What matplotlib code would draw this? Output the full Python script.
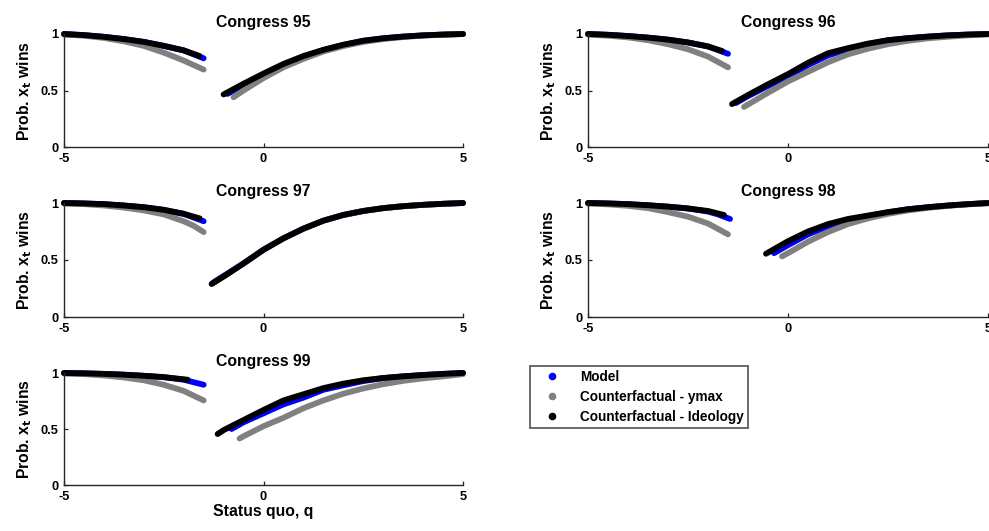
import numpy as np
import matplotlib
matplotlib.use("Agg")
import matplotlib.pyplot as plt
from matplotlib.lines import Line2D

plt.rcParams["font.family"] = ["Liberation Sans", "DejaVu Sans"]
plt.rcParams["font.weight"] = "bold"

congresses = [95, 96, 97, 98, 99]
series_names = ["Model", "Counterfactual - ymax", "Counterfactual - Ideology"]
series_colors = ["#0000ff", "#808080", "#000000"]
nan = float("nan")

# ---- Congress 95 ----
c95_model_q = [-5, -4.5, -4, -3.5, -3, -2.5, -2, -1.5, nan, -0.9, -0.5, 0, 0.5, 1, 1.5, 2, 2.5, 3, 3.5, 4, 4.5, 5]
c95_model_p = [1.0, 0.99, 0.975, 0.955, 0.93, 0.895, 0.855, 0.785, nan, 0.47, 0.55, 0.64, 0.725, 0.8, 0.857, 0.903, 0.94, 0.962, 0.977, 0.988, 0.995, 1.0]
c95_ymax_q = [-5, -4.5, -4, -3.5, -3, -2.5, -2, -1.5, nan, -0.75, -0.5, 0, 0.5, 1, 1.5, 2, 2.5, 3, 3.5, 4, 4.5, 5]
c95_ymax_p = [0.995, 0.985, 0.965, 0.935, 0.895, 0.835, 0.765, 0.685, nan, 0.44, 0.5, 0.61, 0.705, 0.78, 0.845, 0.893, 0.93, 0.955, 0.973, 0.986, 0.994, 1.0]
c95_ideo_q = [-5, -4.5, -4, -3.5, -3, -2.5, -2, -1.6, nan, -1.0, -0.5, 0, 0.5, 1, 1.5, 2, 2.5, 3, 3.5, 4, 4.5, 5]
c95_ideo_p = [1.0, 0.99, 0.975, 0.955, 0.93, 0.895, 0.855, 0.805, nan, 0.465, 0.56, 0.65, 0.735, 0.805, 0.86, 0.905, 0.94, 0.962, 0.977, 0.988, 0.995, 1.0]

# ---- Congress 96 ----
c96_model_q = [-5, -4.5, -4, -3.5, -3, -2.5, -2, -1.5, nan, -1.3, -1, -0.5, 0, 0.5, 1, 1.5, 2, 2.5, 3, 3.5, 4, 4.5, 5]
c96_model_p = [1.0, 0.993, 0.982, 0.968, 0.95, 0.925, 0.89, 0.825, nan, 0.39, 0.45, 0.54, 0.625, 0.725, 0.81, 0.865, 0.91, 0.945, 0.963, 0.977, 0.988, 0.995, 1.0]
c96_ymax_q = [-5, -4.5, -4, -3.5, -3, -2.5, -2, -1.5, nan, -1.1, -0.5, 0, 0.5, 1, 1.5, 2, 2.5, 3, 3.5, 4, 4.5, 5]
c96_ymax_p = [0.995, 0.985, 0.97, 0.945, 0.91, 0.865, 0.8, 0.705, nan, 0.355, 0.48, 0.58, 0.665, 0.75, 0.82, 0.87, 0.91, 0.94, 0.962, 0.976, 0.988, 0.996]
c96_ideo_q = [-5, -4.5, -4, -3.5, -3, -2.5, -2, -1.65, nan, -1.4, -1, -0.5, 0, 0.5, 1, 1.5, 2, 2.5, 3, 3.5, 4, 4.5, 5]
c96_ideo_p = [1.0, 0.993, 0.982, 0.968, 0.95, 0.925, 0.89, 0.85, nan, 0.38, 0.46, 0.555, 0.645, 0.745, 0.83, 0.875, 0.915, 0.945, 0.963, 0.977, 0.988, 0.995, 1.0]

# ---- Congress 97 ----
c97_model_q = [-5, -4.5, -4, -3.5, -3, -2.5, -2, -1.5, nan, -1.25, -1, -0.5, 0, 0.5, 1, 1.5, 2, 2.5, 3, 3.5, 4, 4.5, 5]
c97_model_p = [1.0, 0.996, 0.99, 0.978, 0.963, 0.94, 0.905, 0.84, nan, 0.305, 0.36, 0.47, 0.59, 0.69, 0.775, 0.845, 0.895, 0.93, 0.955, 0.972, 0.984, 0.993, 1.0]
c97_ymax_q = [-5, -4.5, -4, -3.5, -3, -2.5, -2, -1.75, -1.5, nan, -1.3, -1, -0.5, 0, 0.5, 1, 1.5, 2, 2.5, 3, 3.5, 4, 4.5, 5]
c97_ymax_p = [0.995, 0.99, 0.978, 0.96, 0.935, 0.9, 0.84, 0.8, 0.745, nan, 0.29, 0.355, 0.47, 0.59, 0.69, 0.775, 0.845, 0.895, 0.93, 0.955, 0.972, 0.984, 0.993, 1.0]
c97_ideo_q = [-5, -4.5, -4, -3.5, -3, -2.5, -2, -1.6, nan, -1.3, -1, -0.5, 0, 0.5, 1, 1.5, 2, 2.5, 3, 3.5, 4, 4.5, 5]
c97_ideo_p = [1.0, 0.996, 0.99, 0.978, 0.963, 0.94, 0.905, 0.865, nan, 0.29, 0.355, 0.47, 0.59, 0.69, 0.775, 0.845, 0.895, 0.93, 0.955, 0.972, 0.984, 0.993, 1.0]

# ---- Congress 98 ----
c98_model_q = [-5, -4.5, -4, -3.5, -3, -2.5, -2, -1.75, -1.45, nan, -0.35, 0, 0.5, 1, 1.5, 2, 2.5, 3, 3.5, 4, 4.5, 5]
c98_model_p = [1.0, 0.996, 0.99, 0.98, 0.968, 0.952, 0.925, 0.9, 0.86, nan, 0.56, 0.63, 0.725, 0.795, 0.848, 0.885, 0.918, 0.945, 0.963, 0.978, 0.99, 1.0]
c98_ymax_q = [-5, -4.5, -4, -3.5, -3, -2.5, -2, -1.5, nan, -0.15, 0, 0.5, 1, 1.5, 2, 2.5, 3, 3.5, 4, 4.5, 5]
c98_ymax_p = [0.995, 0.988, 0.975, 0.955, 0.92, 0.88, 0.82, 0.725, nan, 0.532, 0.56, 0.66, 0.745, 0.815, 0.865, 0.905, 0.935, 0.958, 0.975, 0.988, 0.997]
c98_ideo_q = [-5, -4.5, -4, -3.5, -3, -2.5, -2, -1.6, nan, -0.55, 0, 0.5, 1, 1.5, 2, 2.5, 3, 3.5, 4, 4.5, 5]
c98_ideo_p = [1.0, 0.996, 0.99, 0.98, 0.968, 0.952, 0.93, 0.895, nan, 0.555, 0.665, 0.75, 0.815, 0.86, 0.89, 0.92, 0.945, 0.963, 0.978, 0.99, 1.0]

# ---- Congress 99 ----
c99_model_q = [-5, -4.5, -4, -3.5, -3, -2.5, -2, -1.5, nan, -0.8, -0.5, 0, 0.5, 1, 1.5, 2, 2.5, 3, 3.5, 4, 4.5, 5]
c99_model_p = [1.0, 0.997, 0.992, 0.985, 0.975, 0.963, 0.94, 0.895, nan, 0.5, 0.56, 0.64, 0.72, 0.78, 0.85, 0.89, 0.928, 0.955, 0.97, 0.982, 0.992, 1.0]
c99_ymax_q = [-5, -4.5, -4, -3.5, -3, -2.5, -2, -1.5, nan, -0.6, -0.5, 0, 0.5, 1, 1.5, 2, 2.5, 3, 3.5, 4, 4.5, 5]
c99_ymax_p = [0.995, 0.99, 0.978, 0.96, 0.935, 0.895, 0.84, 0.755, nan, 0.415, 0.435, 0.525, 0.6, 0.685, 0.755, 0.815, 0.862, 0.9, 0.93, 0.952, 0.97, 0.99]
c99_ideo_q = [-5, -4.5, -4, -3.5, -3, -2.5, -1.9, nan, -1.15, -1, -0.5, 0, 0.5, 1, 1.5, 2, 2.5, 3, 3.5, 4, 4.5, 5]
c99_ideo_p = [1.0, 0.997, 0.992, 0.985, 0.975, 0.963, 0.94, nan, 0.455, 0.49, 0.58, 0.67, 0.755, 0.81, 0.865, 0.905, 0.935, 0.955, 0.97, 0.982, 0.992, 1.0]

panel_data = {
    95: [(c95_model_q, c95_model_p), (c95_ymax_q, c95_ymax_p), (c95_ideo_q, c95_ideo_p)],
    96: [(c96_model_q, c96_model_p), (c96_ymax_q, c96_ymax_p), (c96_ideo_q, c96_ideo_p)],
    97: [(c97_model_q, c97_model_p), (c97_ymax_q, c97_ymax_p), (c97_ideo_q, c97_ideo_p)],
    98: [(c98_model_q, c98_model_p), (c98_ymax_q, c98_ymax_p), (c98_ideo_q, c98_ideo_p)],
    99: [(c99_model_q, c99_model_p), (c99_ymax_q, c99_ymax_p), (c99_ideo_q, c99_ideo_p)],
}

x_ticks = [-5, 0, 5]
y_ticks = [0, 0.5, 1]
x_ticklabels = ["-5", "0", "5"]
y_ticklabels = ["0", "0.5", "1"]

W, H = 989, 531
fig = plt.figure(figsize=(W / 100, H / 100), dpi=100)

# axes boxes in pixels: (left, top, right, bottom)
boxes = [
    (64, 34, 463, 147), (588, 34, 988, 147),
    (64, 203, 463, 317), (588, 203, 988, 317),
    (64, 373, 463, 485),
]

for cong, (l, t, r, b) in zip(congresses, boxes):
    ax = fig.add_axes([l / W, 1 - b / H, (r - l) / W, (b - t) / H])
    for (q, p), color in zip(panel_data[cong], series_colors):
        ax.plot(q, p, color=color, lw=4.2, solid_capstyle="round", clip_on=False)
    ax.set_xlim(-5, 5)
    ax.set_ylim(0, 1)
    ax.set_xticks(x_ticks)
    ax.set_xticklabels(x_ticklabels)
    ax.set_yticks(y_ticks)
    ax.set_yticklabels(y_ticklabels)
    ax.tick_params(direction="in", length=3, width=0.9, labelsize=9.3, pad=4,
                   color="#262626")
    for lab in ax.get_xticklabels() + ax.get_yticklabels():
        lab.set_fontweight("bold")
    for side in ("top", "right"):
        ax.spines[side].set_visible(False)
    for side in ("left", "bottom"):
        ax.spines[side].set_color("#262626")
        ax.spines[side].set_linewidth(1.0)
    ax.set_title(f"Congress {cong}", fontsize=11.3, fontweight="bold", pad=5)
    ax.set_ylabel(r"Prob. x$_\mathbf{t}$ wins", fontsize=11.3, fontweight="bold", labelpad=5)
    if cong == 99:
        ax.set_xlabel("Status quo, q", fontsize=11.3, fontweight="bold", labelpad=1)

handles = [Line2D([], [], ls="none", marker="o", markersize=5.5, color=c, markeredgewidth=0)
           for c in series_colors]
leg = fig.legend(handles, series_names, loc="upper left",
                 bbox_to_anchor=(530 / W, 1 - 366 / H), frameon=True, fancybox=False,
                 prop={"weight": "bold", "size": 9.8},
                 handlelength=2.6, handletextpad=0.75, borderpad=0.3,
                 labelspacing=0.42, borderaxespad=0)
leg.get_frame().set_edgecolor("#262626")
leg.get_frame().set_linewidth(1.2)

fig.savefig("out.png", dpi=100)
